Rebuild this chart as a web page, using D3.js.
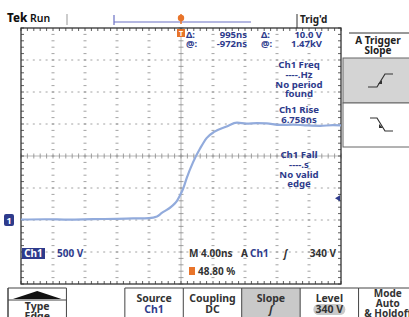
<!DOCTYPE html>
<html lang="en">
<head>
<meta charset="UTF-8">
<title>Tek scope capture</title>
<script src="https://d3js.org/d3.v7.min.js"></script>
<style>
  html, body { margin: 0; padding: 0; background: #fff; }
  svg { display: block; font-family: "Noto Sans", "DejaVu Sans", sans-serif; }
</style>
</head>
<body>
<svg id="scope" width="409" height="317"></svg>
<script>
// waveform (Ch1): time in ns, voltage in V
const timeNs = [-20, -17, -14, -11, -8, -6, -4, -3, -2.4, -1.2, -0.5, -0.1, 0.3, 0.7, 1.5, 2.4, 3.2, 4.2, 5.7, 7.0, 8.2, 9.5, 10.7, 12.4, 14, 15.5, 17.4, 19, 20];
const volts  = [8, 12, 6, 14, 18, 24, 30, 55, 110, 210, 300, 390, 500, 650, 900, 1120, 1280, 1380, 1460, 1520, 1505, 1515, 1510, 1485, 1490, 1480, 1472, 1482, 1478];

const timeDomain = [-20, 20];    // 4 ns/div, 10 div
const voltDomain = [-1000, 3000]; // 500 V/div, 8 div
const triggerLevel = 340;

const cursorRows = [["Δ:", "995ns", "Δ:", "10.0 V"], ["@:", "-972ns", "@:", "1.47kV"]];
const freqLines = ["Ch1 Freq", "----.Hz", "No period", "found"];
const riseLines = ["Ch1 Rise", "6.758ns"];
const fallLines = ["Ch1 Fall", "----.s", "No valid", "edge"];
const buttons = [
  ["", "Type", "Edge"],
  ["", "", ""],
  ["", "Source", "Ch1"],
  ["", "Coupling", "DC"],
  ["", "Slope", "ʃ"],
  ["", "Level", "340 V"],
  ["Mode", "Auto", "& Holdoff"]
];

const navy = "#2e3b8c", ink = "#333", grid = "#8c8c8c", wave = "#92abdc", orange = "#e8742a";
const svg = d3.select("#scope");

const x = d3.scaleLinear().domain(timeDomain).range([21, 341]);
const y = d3.scaleLinear().domain(voltDomain).range([284, 28]);

const majorX = d3.range(timeDomain[0], timeDomain[1] + 0.01, 4);
const majorY = d3.range(voltDomain[0], voltDomain[1] + 1, 500);
const minorX = d3.range(timeDomain[0], timeDomain[1] + 0.01, 0.8);
const minorY = d3.range(voltDomain[0], voltDomain[1] + 1, 100);

// graticule dotted lines
const g = svg.append("g");
majorX.slice(1, -1).filter(t => t !== 0).forEach(t => {
  g.selectAll(null).data(minorY.slice(1, -1)).join("line")
    .attr("x1", x(t) - 1.5).attr("x2", x(t) + 1.5)
    .attr("y1", d => y(d)).attr("y2", d => y(d))
    .attr("stroke", grid).attr("stroke-width", 0.8);
});
majorY.slice(1, -1).filter(v => v !== 1000).forEach(v => {
  g.selectAll(null).data(minorX.slice(1, -1)).join("line")
    .attr("x1", d => x(d) - 1).attr("x2", d => x(d) + 1)
    .attr("y1", y(v)).attr("y2", y(v))
    .attr("stroke", grid).attr("stroke-width", 0.8);
});

// center cross with ticks
g.append("line").attr("x1", x(-20)).attr("x2", x(20)).attr("y1", y(1000)).attr("y2", y(1000))
  .attr("stroke", "#999").attr("stroke-width", 0.7);
g.append("line").attr("x1", x(0)).attr("x2", x(0)).attr("y1", y(3000)).attr("y2", y(-1000))
  .attr("stroke", "#999").attr("stroke-width", 0.7);
g.selectAll(null).data(minorX).join("line")
  .attr("x1", d => x(d)).attr("x2", d => x(d)).attr("y1", y(1000) - 2.5).attr("y2", y(1000) + 2.5)
  .attr("stroke", "#888").attr("stroke-width", 0.8);
g.selectAll(null).data(minorY).join("line")
  .attr("y1", d => y(d)).attr("y2", d => y(d)).attr("x1", x(0) - 2.5).attr("x2", x(0) + 2.5)
  .attr("stroke", "#888").attr("stroke-width", 0.8);

// border ticks
g.selectAll(null).data(minorX).join("line")
  .attr("x1", d => x(d)).attr("x2", d => x(d)).attr("y1", y(3000)).attr("y2", y(3000) + 3)
  .attr("stroke", ink).attr("stroke-width", 0.8);
g.selectAll(null).data(minorX).join("line")
  .attr("x1", d => x(d)).attr("x2", d => x(d)).attr("y1", y(-1000)).attr("y2", y(-1000) - 3)
  .attr("stroke", ink).attr("stroke-width", 0.8);
g.selectAll(null).data(minorY).join("line")
  .attr("y1", d => y(d)).attr("y2", d => y(d)).attr("x1", x(-20)).attr("x2", x(-20) + 3)
  .attr("stroke", ink).attr("stroke-width", 0.8);
g.selectAll(null).data(minorY).join("line")
  .attr("y1", d => y(d)).attr("y2", d => y(d)).attr("x1", x(20)).attr("x2", x(20) - 3)
  .attr("stroke", ink).attr("stroke-width", 0.8);

g.append("rect").attr("x", x(-20)).attr("y", y(3000))
  .attr("width", x(20) - x(-20)).attr("height", y(-1000) - y(3000))
  .attr("fill", "none").attr("stroke", ink).attr("stroke-width", 1.3);

function text(px, py, s, opt = {}) {
  return svg.append("text").attr("x", px).attr("y", py).text(s)
    .attr("font-size", opt.size || 10)
    .attr("font-weight", opt.weight || 700)
    .attr("fill", opt.fill || navy)
    .attr("text-anchor", opt.anchor || "start")
    .attr("font-style", opt.style || null);
}

// measurement side texts
[[freqLines, 68], [riseLines, 113], [fallLines, 158]].forEach(([lines, top]) => {
  lines.forEach((s, i) => text(299, top + i * 9.8, s, {anchor: "middle", size: 9.6}));
});

// waveform
svg.append("path")
  .datum(timeNs.map((t, i) => [t, volts[i]]))
  .attr("fill", "none").attr("stroke", wave).attr("stroke-width", 2.2)
  .attr("stroke-linejoin", "round")
  .attr("d", d3.line().x(d => x(d[0])).y(d => y(d[1])).curve(d3.curveMonotoneX));

// Ch1 ground marker
svg.append("rect").attr("x", 4).attr("y", y(0) - 6).attr("width", 10).attr("height", 12)
  .attr("rx", 2).attr("fill", navy);
text(9, y(0) + 3.5, "1", {fill: "#fff", anchor: "middle", size: 9});

// trigger level arrow
svg.append("path")
  .attr("d", `M${x(20) - 1},${y(triggerLevel) - 3}L${x(20) - 6},${y(triggerLevel)}L${x(20) - 1},${y(triggerLevel) + 3}Z`)
  .attr("fill", navy);

// top bar
text(7, 22, "Tek", {fill: "#111", size: 11.5, weight: 800});
text(30, 22, "Run", {fill: "#111", size: 10.5, weight: 600});
svg.append("line").attr("x1", 67).attr("x2", 67).attr("y1", 14).attr("y2", 25).attr("stroke", "#999");
svg.append("line").attr("x1", 114).attr("x2", 251).attr("y1", 22).attr("y2", 22).attr("stroke", "#6a70c4").attr("stroke-width", 1.2);
svg.append("line").attr("x1", 114).attr("x2", 114).attr("y1", 15).attr("y2", 25).attr("stroke", "#6a70c4").attr("stroke-width", 1.2);
svg.append("line").attr("x1", x(0)).attr("x2", x(0)).attr("y1", 14).attr("y2", 24).attr("stroke", orange).attr("stroke-width", 1.5);
svg.append("circle").attr("cx", x(0)).attr("cy", 18).attr("r", 3.2).attr("fill", orange);
svg.append("line").attr("x1", 297).attr("x2", 297).attr("y1", 14).attr("y2", 28).attr("stroke", ink);
text(300, 23, "Trig'd", {fill: "#222", size: 10});

// trigger position marker
svg.append("rect").attr("x", x(0) - 4).attr("y", 29).attr("width", 8).attr("height", 8).attr("fill", orange);
text(x(0), 36, "T", {fill: "#fff", anchor: "middle", size: 7});

// cursor readouts
cursorRows.forEach((r, i) => {
  const yy = 38 + i * 9;
  text(186, yy, r[0], {size: 9.5});
  text(247, yy, r[1], {anchor: "end", size: 9.5});
  text(261, yy, r[2], {size: 9.5});
  text(322, yy, r[3], {anchor: "end", size: 9.5});
});

// right menu panel
svg.append("line").attr("x1", 349).attr("x2", 409).attr("y1", 33).attr("y2", 33).attr("stroke", ink);
text(378, 44, "A Trigger", {fill: "#222", anchor: "middle", size: 10});
text(378, 53.5, "Slope", {fill: "#222", anchor: "middle", size: 10});
svg.append("rect").attr("x", 343).attr("y", 58).attr("width", 70).attr("height", 45)
  .attr("fill", "#d4d4d4").attr("stroke", "#666");
svg.append("rect").attr("x", 343).attr("y", 103).attr("width", 70).attr("height", 44)
  .attr("fill", "#fff").attr("stroke", "#666");
svg.append("path").attr("d", "M368,87H377L385,74H393").attr("fill", "none").attr("stroke", "#333").attr("stroke-width", 1.2);
svg.append("path").attr("d", "M378,84L382,80L382,84Z").attr("fill", "#333");
svg.append("path").attr("d", "M370,118H377L385,131H393").attr("fill", "none").attr("stroke", "#333").attr("stroke-width", 1.2);
svg.append("path").attr("d", "M379,124L383,128L379,128Z").attr("fill", "#333");

// bottom status line
svg.append("rect").attr("x", 22).attr("y", 248).attr("width", 23).attr("height", 11).attr("fill", navy);
text(33.5, 257, "Ch1", {fill: "#fff", anchor: "middle"});
text(57, 257, "500 V");
text(189, 257, "M 4.00ns", {fill: "#333"});
text(241, 257, "A", {fill: "#333"});
text(250, 257, "Ch1");
text(284, 257, "ʃ", {fill: "#333", style: "italic"});
text(336, 257, "340 V", {fill: "#333", anchor: "end"});
svg.append("rect").attr("x", 189).attr("y", 267).attr("width", 6).attr("height", 8).attr("fill", orange);
text(198, 275, "48.80 %", {fill: "#333"});

// soft-key buttons
const bx = d3.scaleBand().domain(d3.range(buttons.length)).range([8, 417]);
const btn = svg.append("g");
buttons.forEach((b, i) => {
  const x0 = bx(i), w = bx.bandwidth(), cx = x0 + w / 2;
  if (i === 4) btn.append("rect").attr("x", x0).attr("y", 288).attr("width", w).attr("height", 30).attr("fill", "#c9c9c9");
  btn.append("line").attr("x1", x0).attr("x2", x0).attr("y1", 288).attr("y2", 317).attr("stroke", "#444");
  if (i !== 1) btn.append("line").attr("x1", x0).attr("x2", x0 + w).attr("y1", 288).attr("y2", 288).attr("stroke", "#444");
  if (b[0]) text(cx, 297, b[0], {fill: "#333", anchor: "middle", size: 10});
  if (i === 0) {
    btn.append("path").attr("d", `M${x0 + 5},299L${cx},291L${x0 + w - 5},299Z`).attr("fill", "#111");
    btn.append("line").attr("x1", x0).attr("x2", x0 + w).attr("y1", 300).attr("y2", 300).attr("stroke", "#444");
    text(cx, 310, b[1], {fill: "#333", anchor: "middle", size: 10.5});
    text(cx, 319.5, b[2], {fill: "#333", anchor: "middle", size: 10.5});
    return;
  }
  if (i === 6) {
    text(cx, 307, b[1], {fill: "#333", anchor: "middle", size: 10});
    text(cx, 317, b[2], {fill: "#333", anchor: "middle", size: 10});
    return;
  }
  text(cx, 302, b[1], {fill: "#333", anchor: "middle", size: 10.5});
  if (i === 5) btn.append("rect").attr("x", cx - 16).attr("y", 304).attr("width", 32).attr("height", 11).attr("rx", 5.5).attr("fill", "#c9c9c9");
  text(cx, 313, b[2], {fill: i === 2 ? navy : "#333", anchor: "middle", size: 10.5, style: i === 4 ? "italic" : null});
});
btn.append("line").attr("x1", 8).attr("x2", 8).attr("y1", 288).attr("y2", 317).attr("stroke", "#444");
</script>
</body>
</html>
